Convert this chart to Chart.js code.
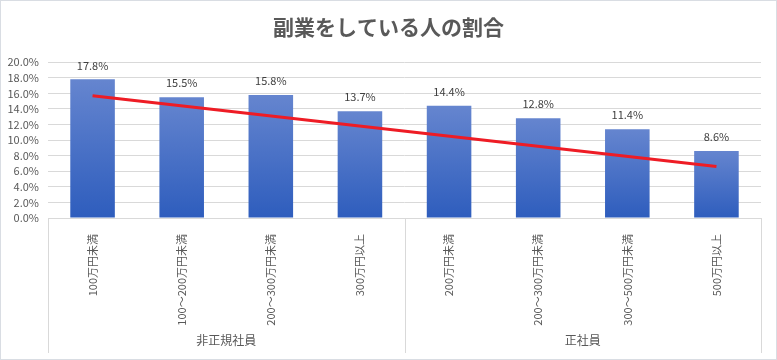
<!DOCTYPE html>
<html>
<head>
<meta charset="utf-8">
<script src="https://cdn.jsdelivr.net/npm/chart.js@4/dist/chart.umd.min.js"></script>
<style>
html,body{margin:0;padding:0;background:#fff;}
#wrap{position:relative;width:777px;height:360px;box-sizing:border-box;border:1px solid #d9dde3;}
</style>
</head>
<body>
<div id="wrap"><canvas id="c"></canvas></div>
<script>
const categories = ['100万円未満','100～200万円未満','200～300万円未満','300万円以上','200万円未満','200～300万円未満','300～500万円未満','500万円以上'];
const shareValues = [17.8, 15.5, 15.8, 13.7, 14.4, 12.8, 11.4, 8.6];
const trendValues = [15.7, null, null, null, null, null, null, 6.6];
const groupNames = ['非正規社員', '正社員'];
const groupSizes = [4, 4];
const yTicks = [0, 2, 4, 6, 8, 10, 12, 14, 16, 18, 20];
const titleText = '副業をしている人の割合';

const FONT = '"Noto Sans CJK JP", "Noto Sans", sans-serif';
const TXT = '#595959';

function barGradient(ctx) {
  const chart = ctx.chart;
  if (!chart.chartArea || !chart.scales.y) return '#4472c4';
  const ys = chart.scales.y;
  const v = ctx.raw;
  const top = ys.getPixelForValue(v);
  const bottom = ys.getPixelForValue(0);
  const g = chart.ctx.createLinearGradient(0, top, 0, bottom);
  g.addColorStop(0, '#6585cf');
  g.addColorStop(1, '#2e5dbd');
  return g;
}

const extras = {
  id: 'extras',
  afterDatasetsDraw(chart) {
    const c = chart.ctx;
    const meta = chart.getDatasetMeta(0);
    c.save();
    c.font = '11px ' + FONT;
    c.fillStyle = '#404040';
    c.textAlign = 'center';
    c.textBaseline = 'middle';
    meta.data.forEach((bar, i) => {
      c.fillText(shareValues[i].toFixed(1) + '%', bar.x, bar.y - 14);
    });
    c.restore();
  },
  afterDraw(chart) {
    const c = chart.ctx;
    const xs = chart.scales.x;
    const area = chart.chartArea;
    const half = (xs.getPixelForValue(1) - xs.getPixelForValue(0)) / 2;
    const lineBottom = chart.height - 6;
    c.save();
    c.strokeStyle = '#d9d9d9';
    c.lineWidth = 1;
    let start = 0;
    const bounds = [xs.getPixelForValue(0) - half];
    groupSizes.forEach(n => { start += n; bounds.push(xs.getPixelForValue(start - 1) + half); });
    bounds.forEach(x => {
      const px = Math.round(x) + 0.5;
      c.beginPath();
      c.moveTo(px, area.bottom);
      c.lineTo(px, lineBottom);
      c.stroke();
    });
    c.font = '12px ' + FONT;
    c.fillStyle = TXT;
    c.textAlign = 'center';
    c.textBaseline = 'middle';
    groupNames.forEach((name, i) => {
      c.fillText(name, (bounds[i] + bounds[i + 1]) / 2, chart.height - 19);
    });
    c.restore();
  }
};

new Chart(document.getElementById('c'), {
  type: 'bar',
  data: {
    labels: categories,
    datasets: [
      {
        type: 'bar',
        data: shareValues,
        backgroundColor: barGradient,
        categoryPercentage: 1,
        barPercentage: 0.5,
        order: 1
      },
      {
        type: 'line',
        data: trendValues,
        spanGaps: true,
        borderColor: '#ee1c25',
        borderWidth: 3,
        pointRadius: 0,
        fill: false,
        order: 0
      }
    ]
  },
  options: {
    responsive: true,
    maintainAspectRatio: false,
    animation: false,
    layout: { padding: { left: 0, right: 0, top: 0, bottom: 0 } },
    plugins: {
      legend: { display: false },
      tooltip: { enabled: false },
      title: {
        display: true,
        text: titleText,
        color: TXT,
        font: { family: FONT, size: 21, weight: 'bold' },
        padding: { top: 13, bottom: 23 }
      }
    },
    scales: {
      x: {
        grid: { display: false },
        border: { display: true, color: '#d9d9d9' },
        ticks: {
          minRotation: 90, maxRotation: 90, autoSkip: false,
          color: TXT, padding: 8,
          font: { family: FONT, size: 11 }
        },
        afterFit(s) { s.height = 141; }
      },
      y: {
        min: 0, max: 20,
        afterBuildTicks(s) { s.ticks = yTicks.map(v => ({ value: v })); },
        grid: { color: '#d9d9d9', drawTicks: false },
        border: { display: false },
        ticks: {
          autoSkip: false,
          color: TXT, padding: 9,
          font: { family: FONT, size: 11 },
          callback: v => v.toFixed(1) + '%'
        },
        afterFit(s) { s.width = 47; }
      },
      yRightGap: {
        position: 'right',
        display: true,
        grid: { display: false },
        border: { display: false },
        ticks: { display: false },
        afterFit(s) { s.width = 15; }
      }
    }
  },
  plugins: [extras]
});
</script>
</body>
</html>
